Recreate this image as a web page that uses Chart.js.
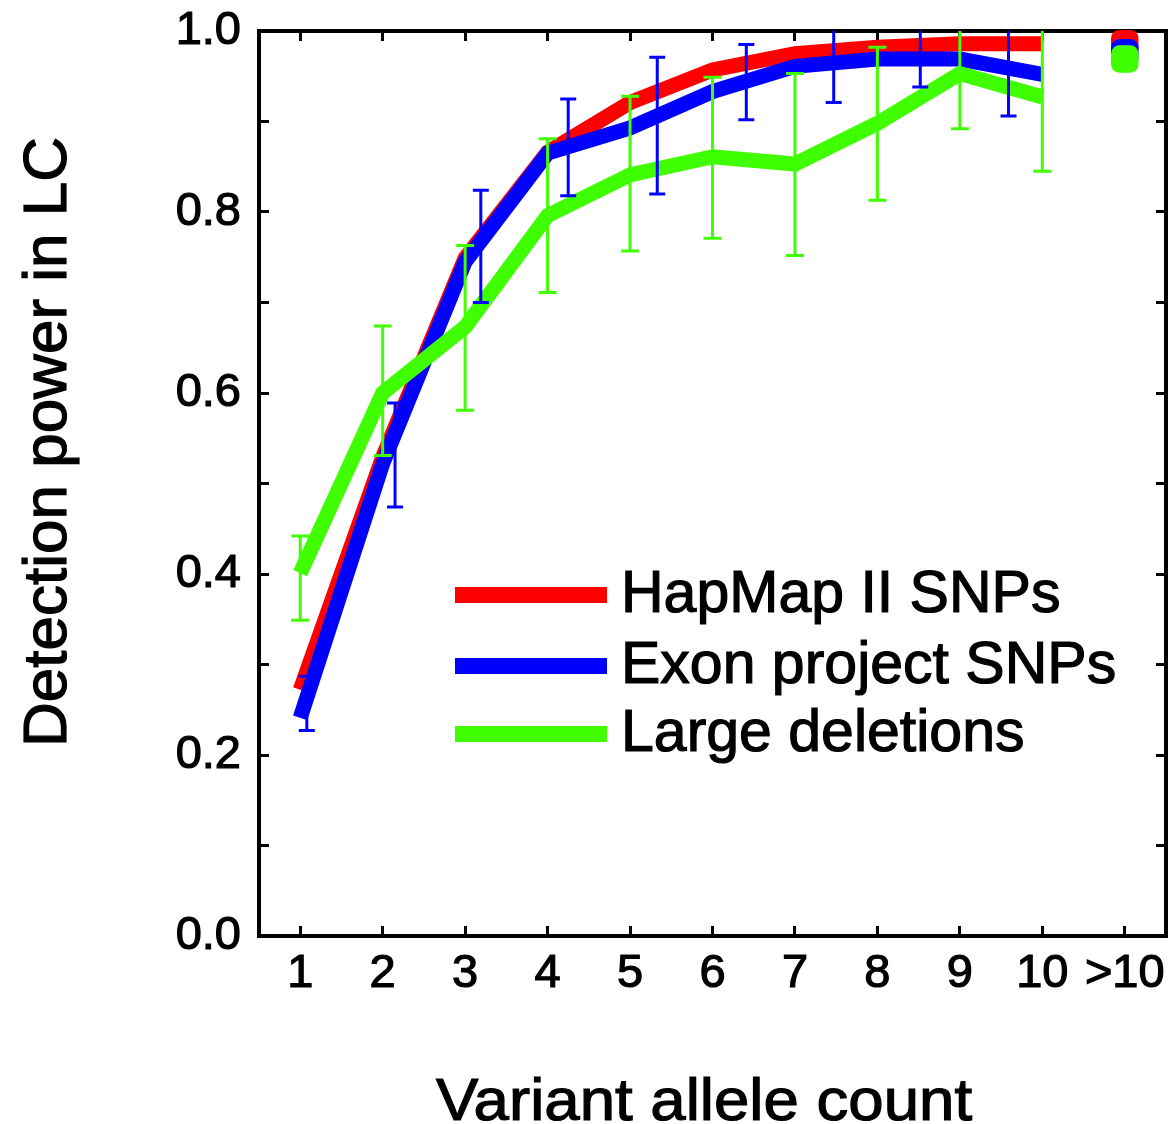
<!DOCTYPE html>
<html>
<head>
<meta charset="utf-8">
<title>Detection power in LC</title>
<script src="https://cdn.jsdelivr.net/npm/chart.js"></script>
<style>
  html, body { margin: 0; padding: 0; background: #fff; }
  canvas { display: block; }
</style>
</head>
<body>
<canvas id="chart" width="1173" height="1124"></canvas>
<script>
// Values
const xLabels = ["1", "2", "3", "4", "5", "6", "7", "8", "9", "10", ">10"];
const alleleCounts = [1, 2, 3, 4, 5, 6, 7, 8, 9, 10];
const seriesNames = ["HapMap II SNPs", "Exon project SNPs", "Large deletions"];

const hapmapPower = [0.272, 0.529, 0.749, 0.866, 0.921, 0.957, 0.975, 0.982, 0.986, 0.986];
const exonPower = [0.241, 0.522, 0.745, 0.865, 0.893, 0.933, 0.961, 0.969, 0.969, 0.952];
const deletionPower = [0.401, 0.600, 0.673, 0.796, 0.841, 0.861, 0.853, 0.898, 0.953, 0.927];

// ">10" bin, one value per series
const over10Power = [0.986, 0.976, 0.969];

// Error bars (exon bars sit slightly right of the categories in the original)
const exonErrX = [1.08, 2.15, 3.19, 4.25, 5.33, 6.41, 7.47, 8.52, 9.59];
const exonErrLow = [0.227, 0.474, 0.700, 0.818, 0.820, 0.902, 0.921, 0.938, 0.906];
const exonErrHigh = [0.287, 0.589, 0.824, 0.925, 0.971, 0.985, 1.010, 1.010, 1.030];
const deletionErrLow = [0.349, 0.531, 0.581, 0.711, 0.757, 0.771, 0.752, 0.813, 0.892, 0.845];
const deletionErrHigh = [0.442, 0.674, 0.763, 0.881, 0.928, 0.949, 0.953, 0.982, 1.014, 1.009];

const xTitle = "Variant allele count";
const yTitle = "Detection power in LC";

const RED = "#ff0000";
const BLUE = "#0000ff";
const GREEN = "#40ff00";
const FONT = "'Liberation Sans', Arial, sans-serif";

function toPoints(values) {
    return values.map((v, i) => ({ x: alleleCounts[i], y: v }));
}

function lineSet(label, values, color, order) {
    return {
        label: label,
        data: toPoints(values),
        borderColor: color,
        backgroundColor: color,
        borderWidth: 15,
        pointRadius: 0,
        tension: 0,
        order: order
    };
}

function over10Set(value, color, order) {
    return {
        label: "",
        data: [{ x: xLabels.length, y: value }],
        showLine: false,
        pointStyle: "rectRounded",
        pointRadius: 16,
        backgroundColor: color,
        borderWidth: 0,
        clip: false,
        order: order
    };
}

// Slightly heavier text, like the original
function drawText(ctx, text, x, y) {
    ctx.lineWidth = 1.2;
    ctx.strokeStyle = "#000";
    ctx.fillText(text, x, y);
    ctx.strokeText(text, x, y);
}

// Draw error bars on top of the lines, clipped to the plot
const errorBars = {
    id: "errorBars",
    afterDatasetsDraw(chart) {
        const { ctx, chartArea, scales } = chart;
        const x = scales.x, y = scales.y;
        ctx.save();
        ctx.beginPath();
        ctx.rect(chartArea.left, chartArea.top, chartArea.right - chartArea.left, chartArea.bottom - chartArea.top);
        ctx.clip();

        function bar(xv, lo, hi, color, half) {
            const px = x.getPixelForValue(xv);
            const y1 = y.getPixelForValue(lo);
            const y2 = y.getPixelForValue(hi);
            ctx.strokeStyle = color;
            ctx.lineWidth = 3;
            ctx.beginPath();
            ctx.moveTo(px, y1); ctx.lineTo(px, y2);
            ctx.moveTo(px - half, y1); ctx.lineTo(px + half, y1);
            ctx.moveTo(px - half, y2); ctx.lineTo(px + half, y2);
            ctx.stroke();
        }

        exonErrX.forEach((xv, i) => bar(xv, exonErrLow[i], exonErrHigh[i], BLUE, 8));
        alleleCounts.forEach((xv, i) => bar(xv, deletionErrLow[i], deletionErrHigh[i], GREEN, 9));
        ctx.restore();
    }
};

// Legend inside the plot: long line samples with labels
const insideLegend = {
    id: "insideLegend",
    afterDraw(chart) {
        const ctx = chart.ctx;
        const rows = [595, 666, 734];
        ctx.save();
        ctx.font = "59px " + FONT;
        ctx.textBaseline = "middle";
        for (let i = 0; i < 3; i++) {
            const ds = chart.data.datasets[i];
            ctx.fillStyle = ds.borderColor;
            ctx.fillRect(455, rows[i] - 8, 152, 16);
            ctx.fillStyle = "#000";
            drawText(ctx, ds.label, 621, rows[i] + 1);
        }
        ctx.restore();
    }
};

// Axis titles
const axisTitles = {
    id: "axisTitles",
    afterDraw(chart) {
        const ctx = chart.ctx;
        ctx.save();
        ctx.fillStyle = "#000";
        ctx.textAlign = "center";
        ctx.textBaseline = "alphabetic";

        ctx.save();
        ctx.translate(704, 1120);
        ctx.scale(1.06, 1);
        ctx.font = "60px " + FONT;
        drawText(ctx, xTitle, 0, 0);
        ctx.restore();

        ctx.save();
        ctx.translate(66, 442);
        ctx.rotate(-Math.PI / 2);
        ctx.font = "62px " + FONT;
        drawText(ctx, yTitle, 0, 0);
        ctx.restore();

        ctx.restore();
    }
};

function setCategoryTicks(axis) {
    axis.ticks = xLabels.map((_, i) => ({ value: i + 1 }));
}

// Fix the axis box size and drop the label overhang padding
function fixSize(size) {
    return (s) => {
        if (s.isHorizontal()) s.height = size; else s.width = size;
        s.paddingTop = 0; s.paddingBottom = 0;
        s.paddingLeft = 0; s.paddingRight = 0;
    };
}

const innerGrid = {
    drawOnChartArea: false,
    drawTicks: true,
    tickLength: -10,
    tickWidth: 3,
    tickColor: "#000"
};
const frame = { display: true, width: 4, color: "#000" };
const tickFont = { family: FONT, size: 47 };

new Chart(document.getElementById("chart"), {
    type: "line",
    data: {
        datasets: [
            lineSet(seriesNames[0], hapmapPower, RED, 3),
            lineSet(seriesNames[1], exonPower, BLUE, 2),
            lineSet(seriesNames[2], deletionPower, GREEN, 1),
            over10Set(over10Power[0], RED, 3),
            over10Set(over10Power[1], BLUE, 2),
            over10Set(over10Power[2], GREEN, 1)
        ]
    },
    options: {
        responsive: false,
        devicePixelRatio: 1,
        animation: false,
        layout: { autoPadding: false, padding: { top: 31, right: 7, left: 0, bottom: 0 } },
        plugins: {
            legend: { display: false },
            tooltip: { enabled: false }
        },
        scales: {
            x: {
                type: "linear",
                position: "bottom",
                min: 0.5,
                max: xLabels.length + 0.5,
                afterBuildTicks: setCategoryTicks,
                afterFit: fixSize(188),
                grid: innerGrid,
                border: frame,
                ticks: {
                    autoSkip: false,
                    maxRotation: 0,
                    padding: 20,
                    color: "#000",
                    textStrokeColor: "#000",
                    textStrokeWidth: 1.2,
                    font: tickFont,
                    callback: (v) => xLabels[Math.round(v) - 1]
                }
            },
            xTop: {
                type: "linear",
                position: "top",
                min: 0.5,
                max: xLabels.length + 0.5,
                afterBuildTicks: setCategoryTicks,
                afterFit: fixSize(0),
                grid: innerGrid,
                border: frame,
                ticks: { display: false }
            },
            y: {
                position: "left",
                min: 0,
                max: 1,
                afterFit: fixSize(259),
                grid: innerGrid,
                border: frame,
                ticks: {
                    stepSize: 0.1,
                    autoSkip: false,
                    padding: 28,
                    color: "#000",
                    textStrokeColor: "#000",
                    textStrokeWidth: 1.2,
                    font: tickFont,
                    callback: (v) => (Math.round(v * 10) % 2 === 0 ? v.toFixed(1) : "")
                }
            },
            yRight: {
                position: "right",
                min: 0,
                max: 1,
                afterFit: fixSize(0),
                grid: innerGrid,
                border: frame,
                ticks: { display: false, stepSize: 0.1, autoSkip: false }
            }
        }
    },
    plugins: [errorBars, insideLegend, axisTitles]
});
</script>
</body>
</html>
